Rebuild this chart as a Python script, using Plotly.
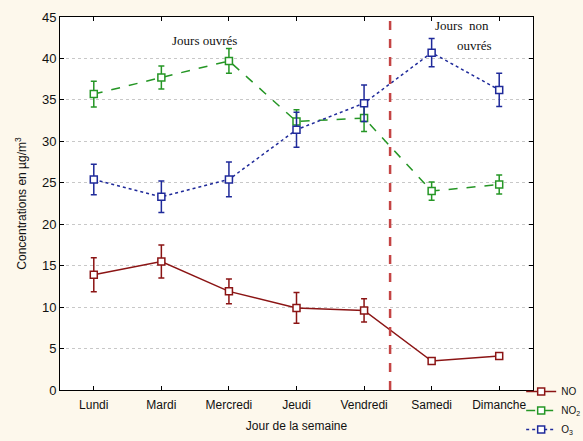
import plotly.graph_objects as go

days = ["Lundi", "Mardi", "Mercredi", "Jeudi", "Vendredi", "Samedi", "Dimanche"]

no_vals = [13.9, 15.5, 11.9, 9.9, 9.6, 3.5, 4.1]
no_err = [2.05, 2.0, 1.5, 1.85, 1.4, 0.3, 0.4]

no2_vals = [35.7, 37.7, 39.7, 32.4, 32.8, 24.0, 24.8]
no2_err = [1.55, 1.4, 1.5, 1.4, 1.6, 1.1, 1.15]

o3_vals = [25.4, 23.3, 25.4, 31.4, 34.6, 40.7, 36.2]
o3_err = [1.85, 1.9, 2.1, 2.1, 2.2, 1.7, 2.0]

y_ticks = [0, 5, 10, 15, 20, 25, 30, 35, 40, 45]
split_x = 4.385

fig = go.Figure()

series = [
    ("NO", no_vals, no_err, "#8b1414", "solid"),
    ("NO<sub>2</sub>", no2_vals, no2_err, "#259625", "dash"),
    ("O<sub>3</sub>", o3_vals, o3_err, "#1f2a9a", "dot"),
]

for name, vals, err, color, dash in series:
    fig.add_trace(go.Scatter(
        x=list(range(len(days))), y=vals, name=name,
        mode="lines+markers",
        line=dict(color=color, width=1.5, dash=dash),
        marker=dict(symbol="square", size=7, color="white",
                    line=dict(color=color, width=1.5)),
        error_y=dict(type="data", array=err, visible=True,
                     color=color, thickness=1.5, width=3),
    ))

fig.add_shape(type="line", x0=split_x, x1=split_x, y0=0, y1=45,
              xref="x", yref="y",
              line=dict(color="#c44444", width=2.5, dash="dash"))

annot_font = dict(family="Liberation Serif, Times New Roman, serif", size=13, color="#111111")
fig.add_annotation(x=1.64, y=42.2, text="Jours ouvrés", showarrow=False, font=annot_font)
fig.add_annotation(x=5.45, y=44.0, text="Jours  non", showarrow=False, font=annot_font)
fig.add_annotation(x=5.63, y=41.6, text="ouvrés", showarrow=False, font=annot_font)

fig.update_layout(
    width=583, height=441,
    margin=dict(l=60, r=50, t=17, b=51, autoexpand=False),
    paper_bgcolor="#fdf8ec",
    plot_bgcolor="white",
    font=dict(family="Liberation Sans, Arial, sans-serif", size=11, color="#111111"),
    showlegend=True,
    legend=dict(x=0.975, y=0.035, xanchor="left", yanchor="top",
                bgcolor="rgba(0,0,0,0)", font=dict(size=10),
                tracegroupgap=0, itemwidth=30),
    xaxis=dict(
        tickmode="array", tickvals=list(range(len(days))), ticktext=days,
        range=[-0.5, 6.5], showgrid=False, zeroline=False,
        showline=True, linecolor="black", linewidth=1, mirror="ticks",
        ticks="inside", ticklen=4, tickcolor="black", ticklabelstandoff=4,
        title=dict(text="Jour de la semaine", font=dict(size=12), standoff=10),
        tickfont=dict(size=12),
    ),
    yaxis=dict(
        range=[0, 45], tickvals=y_ticks,
        showgrid=True, gridcolor="#c8c8c8", griddash="dot", gridwidth=1,
        zeroline=False,
        showline=True, linecolor="black", linewidth=1, mirror="ticks",
        ticks="inside", ticklen=4, tickcolor="black",
        title=dict(text="Concentrations en µg/m<sup>3</sup>", font=dict(size=12), standoff=12),
        tickfont=dict(size=13),
    ),
)

fig.write_html(
    "out.html",
    config={"displayModeBar": False},
    post_script="document.body.style.margin='0';document.body.style.background='#fdf8ec';",
)
